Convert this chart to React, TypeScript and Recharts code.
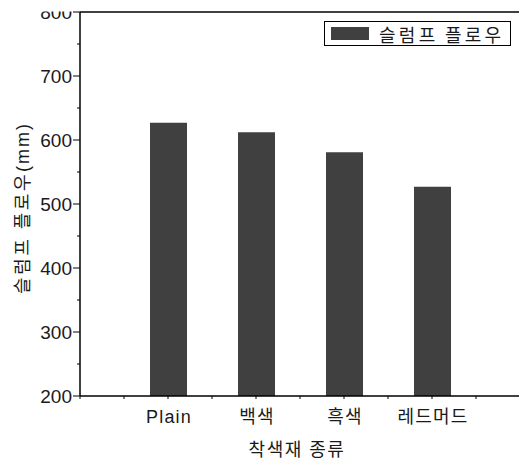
import React from 'react';
import { BarChart, Bar, XAxis, YAxis, Legend, ReferenceLine } from 'recharts';

const categories = ['Plain', '백색', '흑색', '레드머드'];
const slumpFlow = [627, 612, 581, 527];
const yTicks = [200, 250, 300, 350, 400, 450, 500, 550, 600, 650, 700, 750, 800];
const xTicks = [0, 0.5, 1, 1.5, 2, 2.5, 3, 3.5, 4, 4.5, 5];
const seriesName = '슬럼프 플로우';

const data = categories.map((name, i) => ({ pos: i + 1, name, value: slumpFlow[i] }));

const FONT = '"Liberation Sans", "Noto Sans CJK KR", sans-serif';
const TEXT = '#1a1a1a';
const BAR = '#404040';
const AXIS_X = 80;
const AXIS_Y = 396;

const YTick = (props: any) => {
  const { y, payload } = props;
  const major = payload.value % 100 === 0;
  return (
    <g>
      <defs>
        <clipPath id="topClip">
          <rect x={0} y={11.5} width={80} height={460} />
        </clipPath>
      </defs>
      <line x1={AXIS_X - (major ? 7 : 3)} x2={AXIS_X} y1={y} y2={y} stroke="#000" strokeWidth={1} />
      {major && (
        <text
          x={AXIS_X - 8}
          y={y}
          dy={6.5}
          textAnchor="end"
          fontSize={19}
          fontFamily={FONT}
          fill={TEXT}
          clipPath={payload.value === 800 ? 'url(#topClip)' : undefined}
        >
          {payload.value}
        </text>
      )}
    </g>
  );
};

const XTick = (props: any) => {
  const { x, payload } = props;
  const idx = Number.isInteger(payload.value) ? payload.value - 1 : -1;
  return (
    <g>
      <line x1={x} x2={x} y1={AXIS_Y} y2={AXIS_Y + 3} stroke="#000" strokeWidth={1} />
      {idx >= 0 && idx < categories.length && (
        <text
          x={x + 1}
          y={AXIS_Y + 27}
          textAnchor="middle"
          fontSize={18}
          fontFamily={FONT}
          fill={TEXT}
          letterSpacing={1.2}
        >
          {categories[idx]}
        </text>
      )}
    </g>
  );
};

const LegendBox = () => (
  <div
    style={{
      border: '1px solid #000',
      width: 185,
      height: 23,
      display: 'flex',
      alignItems: 'center',
      background: '#fff',
      fontFamily: FONT,
      fontSize: 18,
      color: TEXT,
      boxSizing: 'content-box',
      whiteSpace: 'nowrap',
    }}
  >
    <span style={{ display: 'inline-block', width: 38, height: 13, background: BAR, marginLeft: 6, marginRight: 10 }} />
    <span style={{ letterSpacing: 3.3, wordSpacing: -2 }}>{seriesName}</span>
  </div>
);

export default function App() {
  return (
    <div style={{ position: 'absolute', left: 0, top: 0, width: 519, height: 462, overflow: 'hidden', background: '#fff' }}>
      <BarChart width={525} height={462} data={data} margin={{ top: 12, right: 5, bottom: 0, left: 0 }}>
        <XAxis
          dataKey="pos"
          type="number"
          domain={[0, 5]}
          ticks={xTicks}
          interval={0}
          height={66}
          axisLine={{ stroke: '#000', strokeWidth: 1.5 }}
          tickLine={false}
          tick={<XTick />}
          label={{
            value: '착색재 종류',
            content: () => (
              <text x={297} y={456} textAnchor="middle" fontSize={18} fontFamily={FONT} fill={TEXT} letterSpacing={1.5}>
                착색재 종류
              </text>
            ),
          }}
        />
        <YAxis
          type="number"
          domain={[200, 800]}
          ticks={yTicks}
          interval={0}
          width={80}
          axisLine={{ stroke: '#000', strokeWidth: 1.5 }}
          tickLine={false}
          tick={<YTick />}
          label={{
            value: '슬럼프 플로우(mm)',
            content: () => (
              <text
                x={23}
                y={208}
                transform="rotate(-90 23 208)"
                textAnchor="middle"
                dominantBaseline="central"
                fontSize={18}
                fontFamily={FONT}
                fill={TEXT}
              >
                <tspan letterSpacing={2.5}>슬럼프 플로우</tspan>
                <tspan letterSpacing={2}>(mm)</tspan>
              </text>
            ),
          }}
        />
        <ReferenceLine y={800} stroke="#000" strokeWidth={1.5} />
        <Legend
          layout="horizontal"
          verticalAlign="middle"
          align="center"
          content={<LegendBox />}
          wrapperStyle={{ position: 'absolute', left: 324, top: 21, width: 187 }}
        />
        <Bar dataKey="value" name={seriesName} fill={BAR} barSize={37} isAnimationActive={false} />
      </BarChart>
    </div>
  );
}
